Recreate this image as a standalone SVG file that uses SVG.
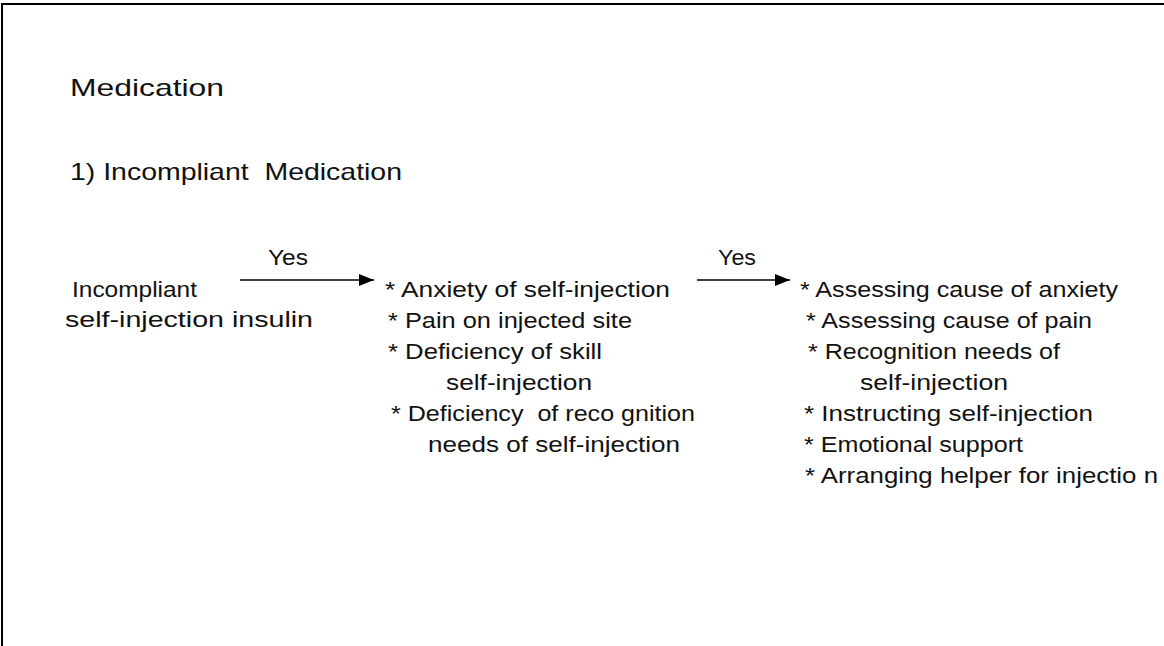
<svg xmlns="http://www.w3.org/2000/svg" width="1164" height="646" viewBox="0 0 1164 646">
<defs>
<style>
text{font-family:"Liberation Sans",Arial,sans-serif;fill:#111;font-size:22px}
.h{font-size:24px}
.c{stroke:#000;stroke-width:1.3;fill:none}
</style>
<marker id="ah" markerWidth="15" markerHeight="12" refX="15" refY="6" orient="auto" markerUnits="userSpaceOnUse">
<path d="M0,0 L15,6 L0,12 Z" fill="#000"/>
</marker>
</defs>
<rect width="1164" height="646" fill="#fff"/>
<path d="M2,646 V4 H1164" stroke="#000" stroke-width="2" fill="none"/>
<text class="h" x="70" y="96" textLength="154" lengthAdjust="spacingAndGlyphs">Medication</text>
<text class="h" x="70" y="180" textLength="332" lengthAdjust="spacingAndGlyphs" xml:space="preserve">1) Incompliant  Medication</text>
<g id="n1">
<text x="72" y="297" textLength="125" lengthAdjust="spacingAndGlyphs">Incompliant</text>
<text x="65" y="327" textLength="248" lengthAdjust="spacingAndGlyphs">self-injection insulin</text>
</g>
<g id="n2">
<text x="385" y="297" textLength="285" lengthAdjust="spacingAndGlyphs">* Anxiety of self-injection</text>
<text x="388" y="328" textLength="244" lengthAdjust="spacingAndGlyphs">* Pain on injected site</text>
<text x="388" y="359" textLength="214" lengthAdjust="spacingAndGlyphs">* Deficiency of skill</text>
<text x="446" y="390" textLength="146" lengthAdjust="spacingAndGlyphs">self-injection</text>
<text x="391" y="421" textLength="304" lengthAdjust="spacingAndGlyphs" xml:space="preserve">* Deficiency  of reco gnition</text>
<text x="428" y="452" textLength="252" lengthAdjust="spacingAndGlyphs">needs of self-injection</text>
</g>
<g id="n3">
<text x="800" y="297" textLength="318" lengthAdjust="spacingAndGlyphs">* Assessing cause of anxiety</text>
<text x="806" y="328" textLength="286" lengthAdjust="spacingAndGlyphs">* Assessing cause of pain</text>
<text x="808" y="359" textLength="252" lengthAdjust="spacingAndGlyphs">* Recognition needs of</text>
<text x="860" y="390" textLength="148" lengthAdjust="spacingAndGlyphs">self-injection</text>
<text x="804" y="421" textLength="289" lengthAdjust="spacingAndGlyphs">* Instructing self-injection</text>
<text x="804" y="452" textLength="219" lengthAdjust="spacingAndGlyphs">* Emotional support</text>
<text x="805" y="483" textLength="353" lengthAdjust="spacingAndGlyphs">* Arranging helper for injectio n</text>
</g>
<g id="connectors">
<line class="c" x1="240" y1="280" x2="374" y2="280" marker-end="url(#ah)"/>
<text x="268" y="265" textLength="40" lengthAdjust="spacingAndGlyphs">Yes</text>
<line class="c" x1="697" y1="280" x2="790" y2="280" marker-end="url(#ah)"/>
<text x="718" y="265" textLength="38" lengthAdjust="spacingAndGlyphs">Yes</text>
</g>
</svg>
